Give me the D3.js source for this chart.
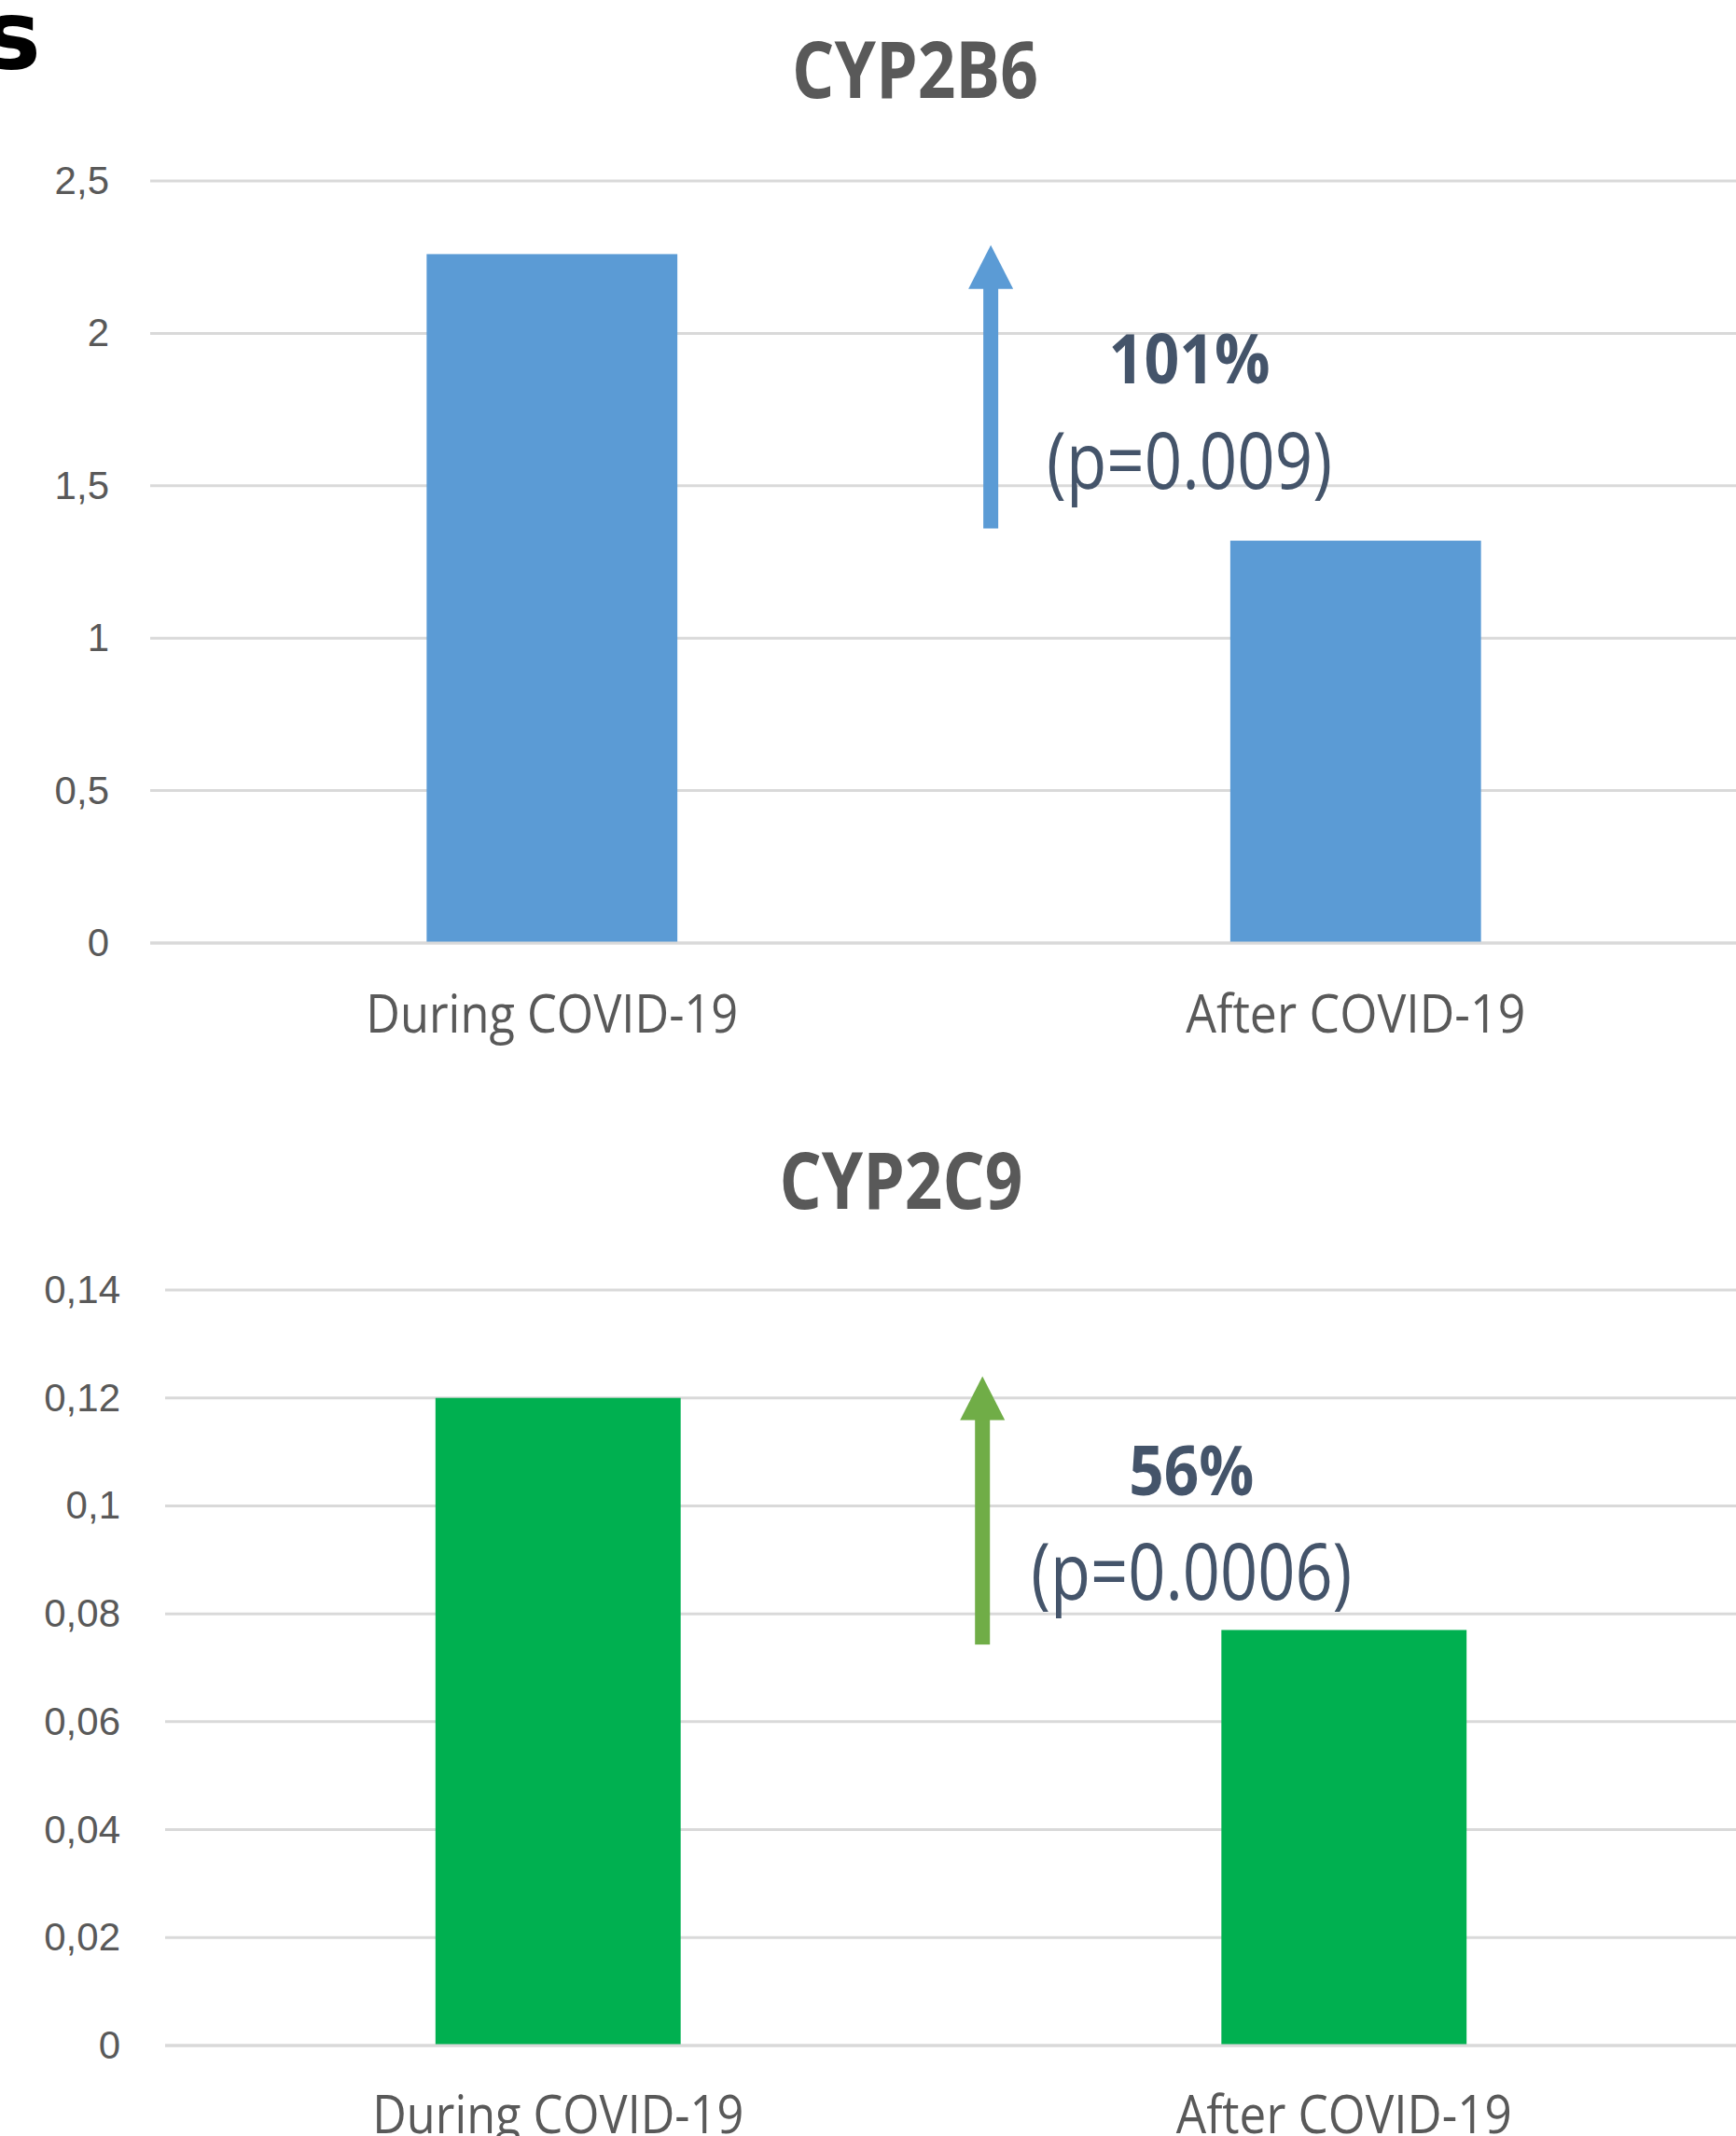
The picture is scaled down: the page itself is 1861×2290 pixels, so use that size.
<!DOCTYPE html>
<html>
<head>
<meta charset="utf-8">
<script src="https://cdn.jsdelivr.net/npm/d3@7"></script>
<style>
  html, body { margin: 0; padding: 0; background: #ffffff; }
  svg { display: block; }
</style>
</head>
<body>
<script>
// ---------- DATA ----------
const categories = ["During COVID-19", "After COVID-19"];

const cyp2b6Title = "CYP2B6";
const cyp2b6Values = [2.26, 1.32];
const cyp2b6Ticks = [0, 0.5, 1, 1.5, 2, 2.5];
const cyp2b6TickLabels = ["0", "0,5", "1", "1,5", "2", "2,5"];
const cyp2b6Arrow = [1.36, 2.29];          // arrow from / to (data units)
const cyp2b6Change = "101%";
const cyp2b6PValue = "(p=0.009)";

const cyp2c9Title = "CYP2C9";
const cyp2c9Values = [0.12, 0.077];
const cyp2c9Ticks = [0, 0.02, 0.04, 0.06, 0.08, 0.1, 0.12, 0.14];
const cyp2c9TickLabels = ["0", "0,02", "0,04", "0,06", "0,08", "0,1", "0,12", "0,14"];
const cyp2c9Arrow = [0.0743, 0.124];
const cyp2c9Change = "56%";
const cyp2c9PValue = "(p=0.0006)";

// ---------- LAYOUT ----------
const W = 1861, H = 2290;
const svg = d3.select("body").append("svg").attr("width", W).attr("height", H);

// cropped heading letter at the top-left corner
svg.append("text")
  .attr("x", 44).attr("y", 74)
  .attr("text-anchor", "end")
  .attr("font-family", "DejaVu Sans")
  .attr("font-weight", "bold")
  .attr("font-size", 104)
  .attr("fill", "#000")
  .text("s");

const panels = [
  {
    title: cyp2b6Title, values: cyp2b6Values, ticks: cyp2b6Ticks, tickLabels: cyp2b6TickLabels,
    arrow: cyp2b6Arrow, change: cyp2b6Change, pval: cyp2b6PValue,
    color: "#5B9BD5", arrowColor: "#5B9BD5",
    x0: 161, x1: 1884, yTop: 194, yBottom: 1011, domainMax: 2.5,
    titleX: 981, titleY: 105, titleLen: 264,
    labelRight: 117, catY: 1107, catLens: [399, 364],
    arrowFrac: 0.523, textFrac: 0.6466,
    changeVal: 1.836, pVal: 1.49, changeLen: 173, pLen: 306
  },
  {
    title: cyp2c9Title, values: cyp2c9Values, ticks: cyp2c9Ticks, tickLabels: cyp2c9TickLabels,
    arrow: cyp2c9Arrow, change: cyp2c9Change, pval: cyp2c9PValue,
    color: "#00B050", arrowColor: "#70AD47",
    x0: 177, x1: 1862, yTop: 1383, yBottom: 2193, domainMax: 0.14,
    titleX: 966, titleY: 1296, titleLen: 261,
    labelRight: 129, catY: 2287, catLens: [398, 360],
    arrowFrac: 0.520, textFrac: 0.653,
    changeVal: 0.1019, pVal: 0.0826, changeLen: 134, pLen: 344
  }
];

panels.forEach(p => {
  const g = svg.append("g");
  const x = d3.scaleBand().domain(categories).range([p.x0, p.x1])
    .paddingInner(0.688).paddingOuter(0.344);
  const y = d3.scaleLinear().domain([0, p.domainMax]).range([p.yBottom, p.yTop]);
  const xf = d3.scaleLinear().domain([0, 1]).range([p.x0, p.x1]);

  // title
  g.append("text")
    .attr("x", p.titleX).attr("y", p.titleY)
    .attr("text-anchor", "middle")
    .attr("font-family", "Open Sans").attr("font-weight", "bold")
    .attr("font-size", 85).attr("fill", "#595959")
    .attr("textLength", p.titleLen).attr("lengthAdjust", "spacingAndGlyphs")
    .text(p.title);

  // gridlines
  g.append("g").selectAll("line").data(p.ticks).join("line")
    .attr("x1", p.x0).attr("x2", p.x1)
    .attr("y1", d => y(d)).attr("y2", d => y(d))
    .attr("stroke", "#D9D9D9").attr("stroke-width", 3);

  // y axis labels
  const yAxis = d3.axisLeft(y).tickValues(p.ticks)
    .tickFormat((d, i) => p.tickLabels[i]).tickSize(0).tickPadding(0);
  const ya = g.append("g").attr("transform", `translate(${p.labelRight},0)`).call(yAxis);
  ya.select(".domain").remove();
  ya.selectAll("text")
    .attr("font-family", "Liberation Sans").attr("font-size", 42)
    .attr("fill", "#595959");

  // bars
  g.append("g").selectAll("rect").data(p.values).join("rect")
    .attr("x", (d, i) => x(categories[i]))
    .attr("width", x.bandwidth())
    .attr("y", d => y(d))
    .attr("height", d => y(0) - y(d))
    .attr("fill", p.color);

  // baseline
  g.append("line")
    .attr("x1", p.x0).attr("x2", p.x1)
    .attr("y1", y(0)).attr("y2", y(0))
    .attr("stroke", "#D9D9D9").attr("stroke-width", 3);

  // category labels
  const xAxis = d3.axisBottom(x).tickSize(0).tickPadding(0);
  const xa = g.append("g").attr("transform", `translate(0,${p.catY})`).call(xAxis);
  xa.select(".domain").remove();
  xa.selectAll("text")
    .attr("y", 0).attr("dy", 0)
    .attr("font-family", "Open Sans").attr("font-size", 57)
    .attr("fill", "#595959")
    .attr("textLength", (d, i) => p.catLens[i])
    .attr("lengthAdjust", "spacingAndGlyphs");

  // arrow annotation
  const ax = xf(p.arrowFrac);
  const yFrom = y(p.arrow[0]), yTo = y(p.arrow[1]);
  const headH = 47, headW = 48, shaftW = 16;
  g.append("rect")
    .attr("x", ax - shaftW / 2).attr("width", shaftW)
    .attr("y", yTo + headH - 2).attr("height", yFrom - yTo - headH + 2)
    .attr("fill", p.arrowColor);
  g.append("path")
    .attr("d", `M${ax},${yTo} L${ax + headW / 2},${yTo + headH} L${ax - headW / 2},${yTo + headH} Z`)
    .attr("fill", p.arrowColor);

  const tx = xf(p.textFrac);
  g.append("text")
    .attr("x", tx).attr("y", y(p.changeVal))
    .attr("text-anchor", "middle")
    .attr("font-family", "Open Sans").attr("font-weight", "bold")
    .attr("font-size", 74).attr("fill", "#44546A")
    .attr("textLength", p.changeLen).attr("lengthAdjust", "spacingAndGlyphs")
    .text(p.change);
  g.append("text")
    .attr("x", tx).attr("y", y(p.pVal))
    .attr("text-anchor", "middle")
    .attr("font-family", "Open Sans")
    .attr("font-size", 84).attr("fill", "#44546A")
    .attr("textLength", p.pLen).attr("lengthAdjust", "spacingAndGlyphs")
    .text(p.pval);
});
</script>
</body>
</html>
